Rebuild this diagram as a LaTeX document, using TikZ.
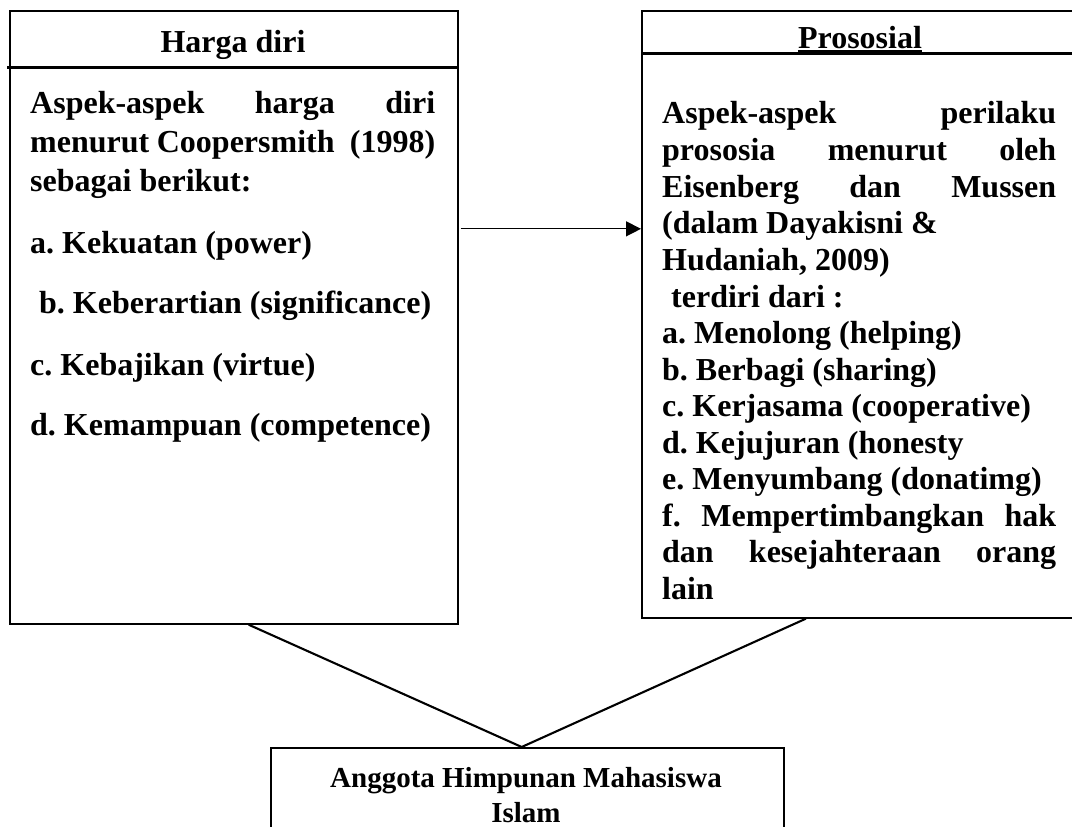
\documentclass[tikz,border=0pt]{standalone}
\usepackage{fontspec}
\setmainfont{Liberation Serif}
\usetikzlibrary{arrows.meta,calc}
\frenchspacing
\begin{document}
\begin{tikzpicture}[x=1pt,y=-1pt,
  box/.style={draw, line width=1.7pt, inner sep=0pt, anchor=north west},
  hdline/.style={line width=3pt},
  txt/.style={inner sep=0pt, anchor=base west, font=\fontsize{32}{36}\selectfont\bfseries},
  ttl/.style={inner sep=0pt, anchor=base, font=\fontsize{32}{36}\selectfont\bfseries},
  btxt/.style={inner sep=0pt, anchor=base, font=\fontsize{29}{34}\selectfont\bfseries},
  conn/.style={line width=2.1pt},
  arr/.style={line width=1.3pt, -{Triangle[length=15pt,width=15pt]}},
]
\useasboundingbox (0,0) rectangle (1072,827);
\clip (0,0) rectangle (1072,827);

% boxes
\node[box, minimum width=448pt, minimum height=613pt] (hd) at (9,10) {};
\node[box, minimum width=439pt, minimum height=607pt] (ps) at (641,10) {};
\node[box, minimum width=513pt, minimum height=110pt] (ah) at (270,747) {};

% header separators
\draw[hdline] ($(hd.north west)+(-2,57)$) -- ($(hd.north east)+(0,57)$);
\draw[hdline] ($(ps.north west)+(0,43)$) -- ($(ps.north east)+(0,43)$);

% titles
\node[ttl] (hdt) at (233,52) {Harga diri};
\node[ttl] (pst) at (860,48) {Prososial};
\draw[line width=2pt] ([yshift=-2.5pt]pst.base west) -- ([yshift=-2.5pt]pst.base east);

% left box text
\node[txt] (l1) at (30,113) {\makebox[405pt][s]{Aspek-aspek harga diri}};
\node[txt] (l2) at (30,152) {\makebox[405pt][s]{menurut Coopersmith\ \ (1998)}};
\node[txt] (l3) at (30,191) {sebagai berikut:};
\node[txt] (l4) at (30,253) {a. Kekuatan (power)};
\node[txt] (l5) at (39,313) {b. Keberartian (significance)};
\node[txt] (l6) at (30,375) {c. Kebajikan (virtue)};
\node[txt] (l7) at (30,435) {d. Kemampuan (competence)};

% right box text
\node[txt] (r1) at (662,123) {\makebox[394pt][s]{Aspek-aspek perilaku}};
\node[txt] (r2) at (662,160) {\makebox[394pt][s]{prososia menurut oleh}};
\node[txt] (r3) at (662,197) {\makebox[394pt][s]{Eisenberg dan Mussen}};
\node[txt] (r4) at (662,233) {(dalam Dayakisni \&};
\node[txt] (r5) at (662,270) {Hudaniah, 2009)};
\node[txt] (r6) at (671,307) {terdiri dari :};
\node[txt] (r7) at (662,343) {a. Menolong (helping)};
\node[txt] (r8) at (662,380) {b. Berbagi (sharing)};
\node[txt] (r9) at (662,416) {c. Kerjasama (cooperative)};
\node[txt] (r10) at (662,453) {d. Kejujuran (honesty};
\node[txt] (r11) at (662,489) {e. Menyumbang (donatimg)};
\node[txt] (r12) at (662,526) {\makebox[394pt][s]{f. Mempertimbangkan hak}};
\node[txt] (r13) at (662,562) {\makebox[394pt][s]{dan kesejahteraan orang}};
\node[txt] (r14) at (662,599) {lain};

% bottom box text
\node[btxt] (b1) at (526,787) {Anggota Himpunan Mahasiswa};
\node[btxt] (b2) at (526,822) {Islam};

% connectors
\coordinate (hdb) at ($(hd.south west)!0.533!(hd.south east)$);
\coordinate (psb) at ($(ps.south west)!0.374!(ps.south east)$);
\coordinate (aht) at ($(ah.north west)!0.489!(ah.north east)$);
\draw[conn] (hdb) -- (aht) -- (psb);
\coordinate (arS) at ($(hd.north east)!0.356!(hd.south east)$);
\draw[arr, shorten <=2pt] (arS) -- (ps.west |- arS);
\end{tikzpicture}
\end{document}
